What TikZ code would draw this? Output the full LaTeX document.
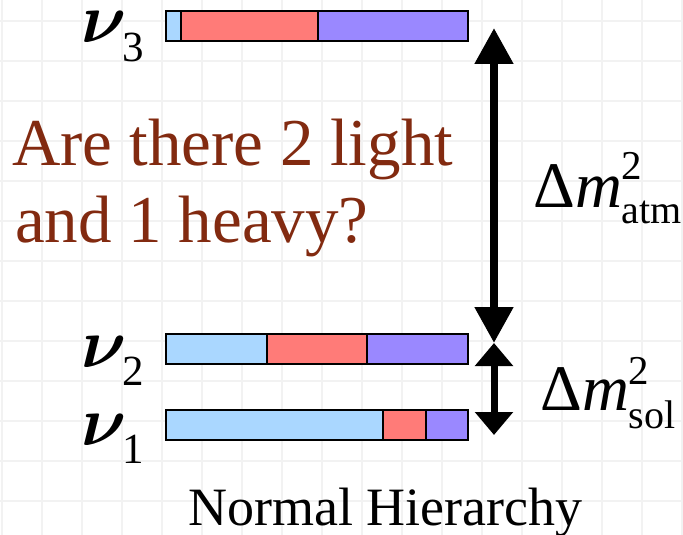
\documentclass[tikz,border=0pt]{standalone}
\usepackage{fontspec}
\setmainfont{Liberation Serif}
\usepackage{xcolor}
\usetikzlibrary{arrows.meta}
\definecolor{flavE}{HTML}{AAD7FF}
\definecolor{flavMu}{HTML}{FF7B78}
\definecolor{flavTau}{HTML}{9A88FF}
\definecolor{askR}{HTML}{822A10}
\definecolor{gridG}{HTML}{F2F2F2}
\newcommand{\pxfont}[1]{\fontsize{#1}{#1}\selectfont}
\newcommand{\bignu}{\scalebox{7}{\boldmath$\nu$}}

\begin{document}
\begin{tikzpicture}[x=1pt, y=-1pt,
    seg/.style={draw=black, line width=2.2pt},
    lbl/.style={anchor=base west, inner sep=0pt}]
  \useasboundingbox (0,0) rectangle (683,535);
  \fill[white] (0,0) rectangle (683,535);
  \foreach \x in {2,42,...,682}
    \draw[gridG, line width=2pt] (\x,0) -- (\x,535);
  \foreach \y in {21,61,...,501}
    \draw[gridG, line width=2pt] (0,\y) -- (683,\y);

  % flavour content of the mass states: top edge / e-mu split / mu-tau split
  \foreach \top/\a/\b in {
    11/181/318,
    334/267/367,
    410/383/426}{
    \draw[seg, fill=flavE] (166,\top) rectangle (\a,\top+30);
    \draw[seg, fill=flavMu] (\a,\top) rectangle (\b,\top+30);
    \draw[seg, fill=flavTau] (\b,\top) rectangle (468,\top+30);
  }

  \node[lbl] (nu3) at (81,43)
    {\bignu\kern-4pt\raisebox{-19pt}{\pxfont{43}3}};
  \node[lbl] (nu2) at (81,367)
    {\bignu\kern-4pt\raisebox{-18pt}{\pxfont{43}2}};
  \node[lbl] (nu1) at (81,445)
    {\bignu\kern-4pt\raisebox{-18pt}{\pxfont{43}1}};

  \node[lbl, font=\pxfont{67}, text=askR] (ask1) at (12,165) {Are there 2 light};
  \node[lbl, font=\pxfont{67}, text=askR] (ask2) at (15,242) {and 1 heavy?};

  % splittings
  \coordinate (atmtop) at (494,28);
  \coordinate (gap) at (494,343);
  \coordinate (solbot) at (494,435);
  \draw[{Triangle[length=36pt,width=37pt]}-{Triangle[length=36pt,width=37pt]},
    line width=8pt] (atmtop) -- (gap);
  \draw[{Triangle[length=23pt,width=37pt]}-{Triangle[length=23pt,width=37pt]},
    line width=7pt] (gap) -- (solbot);

  \node[lbl, font=\pxfont{65}] (datm) at (533,207)
    {Δ\textit{m}\rlap{\raisebox{28pt}{\pxfont{41}2}}\raisebox{-16pt}{\pxfont{40}atm}};
  \node[lbl, font=\pxfont{65}] (dsol) at (540,410)
    {Δ\textit{m}\rlap{\raisebox{26pt}{\pxfont{41}2}}\raisebox{-18pt}{\pxfont{40}sol}};

  \node[lbl, font=\pxfont{54}] (hier) at (188,525) {Normal Hierarchy};
\end{tikzpicture}
\end{document}
